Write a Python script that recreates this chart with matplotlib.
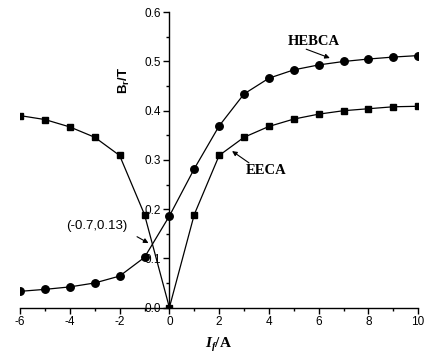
import matplotlib.pyplot as plt
from matplotlib.ticker import MultipleLocator

# field current I_f (A)
current = [-6, -5, -4, -3, -2, -1, 0, 1, 2, 3, 4, 5, 6, 7, 8, 9, 10]

# residual flux density B_r (T)
hebca = [0.033, 0.037, 0.042, 0.050, 0.064, 0.102, 0.186, 0.282, 0.369,
         0.434, 0.466, 0.483, 0.493, 0.500, 0.505, 0.509, 0.512]
eeca = [0.390, 0.382, 0.367, 0.346, 0.309, 0.189, 0.0, 0.189, 0.309,
        0.346, 0.368, 0.383, 0.393, 0.400, 0.404, 0.408, 0.409]

plt.rcParams['mathtext.fontset'] = 'custom'
plt.rcParams['mathtext.it'] = 'Liberation Serif:bold:italic'
plt.rcParams['mathtext.bf'] = 'Liberation Sans:bold'
plt.rcParams['mathtext.rm'] = 'Liberation Sans'

fig = plt.figure(figsize=(4.28, 3.61), dpi=100)
ax = fig.add_axes([0.047, 0.148, 0.93, 0.818])

ax.plot(current, eeca, color='black', lw=0.9, marker='s', ms=4.8)
ax.plot(current, hebca, color='black', lw=0.9, marker='o', ms=5.4)

ax.set_xlim(-6, 10)
ax.set_ylim(0, 0.6)

# y axis goes through x = 0, no frame on top/right
ax.spines['left'].set_position(('data', 0))
ax.spines['top'].set_visible(False)
ax.spines['right'].set_visible(False)
for s in ('left', 'bottom'):
    ax.spines[s].set_linewidth(1.0)

ax.xaxis.set_minor_locator(MultipleLocator(1))
ax.yaxis.set_minor_locator(MultipleLocator(0.05))
ax.tick_params(which='major', direction='out', length=4, width=1,
               labelsize=8.5, pad=2)
ax.tick_params(which='minor', direction='out', length=2.5, width=1)
ax.set_xticks([-6, -4, -2, 0, 2, 4, 6, 8, 10])
ax.set_xticklabels(['-6', '-4', '-2', '0', '2', '4', '6', '8', '10'],
                   family='Liberation Sans', fontsize=8.5)
ax.set_yticks([0, 0.1, 0.2, 0.3, 0.4, 0.5, 0.6])
ax.set_yticklabels(['0.0', '0.1', '0.2', '0.3', '0.4', '0.5', '0.6'],
                   family='Liberation Sans', fontsize=8.5)

# axis titles
fig.text(0.29, 0.778, r'$\mathbf{B_r}$/T', rotation=90, ha='center', va='center',
         fontsize=9.5, fontweight='bold', family='Liberation Sans')
fig.text(0.51, 0.045, r'$I_f$/A', fontsize=11, fontweight='bold',
         family='Liberation Serif', ha='center', va='center')

# curve labels
arr = dict(arrowstyle='-|>', color='black', lw=0.8, mutation_scale=7,
           shrinkA=0, shrinkB=0)
ax.text(5.8, 0.54, 'HEBCA', fontsize=10.5, fontweight='bold',
        family='Liberation Serif', ha='center', va='center')
ax.annotate('', xy=(6.45, 0.507), xytext=(5.5, 0.525), arrowprops=arr)
ax.text(3.9, 0.278, 'EECA', fontsize=10.5, fontweight='bold',
        family='Liberation Serif', ha='center', va='center')
ax.annotate('', xy=(2.52, 0.318), xytext=(3.2, 0.294), arrowprops=arr)
ax.text(-2.9, 0.166, '(-0.7,0.13)', fontsize=9.5, family='Liberation Sans',
        ha='center', va='center')
ax.annotate('', xy=(-0.84, 0.131), xytext=(-1.3, 0.144), arrowprops=arr)

fig.savefig('out.png', dpi=100)
